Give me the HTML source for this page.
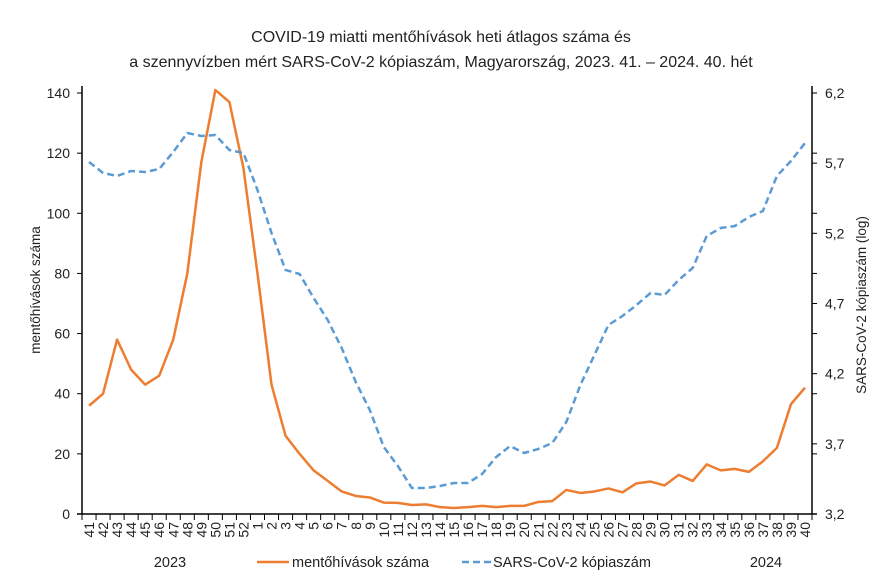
<!DOCTYPE html>
<html><head><meta charset="utf-8"><style>body{margin:0;background:#fff}svg{display:block;font-family:"Liberation Sans",Calibri,sans-serif}</style></head><body>
<svg width="882" height="582" xmlns="http://www.w3.org/2000/svg">
<text x="441" y="42" font-size="16" text-anchor="middle" fill="#222">COVID-19 miatti mentőhívások heti átlagos száma és</text>
<text x="441" y="67" font-size="16" text-anchor="middle" fill="#222">a szennyvízben mért SARS-CoV-2 kópiaszám, Magyarország, 2023. 41. – 2024. 40. hét</text>
<g id="ax" stroke="#000" stroke-width="1.5" fill="none"><line x1="82" y1="86" x2="82" y2="514"/><line x1="812" y1="86" x2="812" y2="514"/><line x1="77" y1="514" x2="817" y2="514"/></g>
<g id="ticks" stroke="#000" stroke-width="1"></g>
<g id="lab" font-size="14" fill="#222"></g>
<text transform="translate(40,290) rotate(-90)" font-size="13.5" text-anchor="middle" fill="#222">mentőhívások száma</text>
<text transform="translate(866,305) rotate(-90)" font-size="13.5" text-anchor="middle" fill="#222">SARS-CoV-2 kópiaszám (log)</text>
<polyline id="o" fill="none" stroke="#ED7D31" stroke-width="2.5" stroke-linejoin="round"/>
<polyline id="b" fill="none" stroke="#5B9BD5" stroke-width="2.5" stroke-dasharray="7,4"/>
<text x="170" y="567" font-size="14.5" text-anchor="middle" fill="#222">2023</text>
<text x="766" y="567" font-size="14.5" text-anchor="middle" fill="#222">2024</text>
<line x1="257" y1="562" x2="289" y2="562" stroke="#ED7D31" stroke-width="2.5"/>
<text x="292" y="567" font-size="14.5" fill="#222">mentőhívások száma</text>
<line x1="462" y1="562" x2="492" y2="562" stroke="#5B9BD5" stroke-width="2.5" stroke-dasharray="7,4"/>
<text x="493" y="567" font-size="14.5" fill="#222">SARS-CoV-2 kópiaszám</text>
<script>
var ns="http://www.w3.org/2000/svg",w=730/52;
function el(p,t,a,tx){var e=document.createElementNS(ns,t);for(var k in a)e.setAttribute(k,a[k]);if(tx)e.textContent=tx;document.getElementById(p).appendChild(e);}
for(var i=0;i<=7;i++){var y=514-i*60.14;el("ticks","line",{x1:77,y1:y,x2:82,y2:y});el("ticks","line",{x1:812,y1:y,x2:817,y2:y});
el("lab","text",{x:70,y:y+5,"text-anchor":"end"},String(i*20));}
for(var i=0;i<=6;i++){var y=514-i*70.17;el("ticks","line",{x1:812,y1:y,x2:817,y2:y});el("lab","text",{x:825,y:y+5},(3.2+i*0.5).toFixed(1).replace(".",","));}
var wk=[];for(var i=41;i<=52;i++)wk.push(i);for(var i=1;i<=40;i++)wk.push(i);
for(var i=0;i<=52;i++)el("ticks","line",{x1:82+i*w,y1:514,x2:82+i*w,y2:520});
wk.forEach(function(v,i){var x=82+(i+0.5)*w;el("lab","text",{transform:"translate("+(x+5)+",522) rotate(-90)","text-anchor":"end","font-size":"14"},String(v));});
var o=[36,40,58,48,43,46,58,80,117,141,137,115,80,43,26,20,14.5,11,7.5,6,5.5,3.8,3.7,3,3.2,2.3,2,2.3,2.7,2.3,2.7,2.7,4,4.3,8,7,7.5,8.5,7.2,10.2,10.8,9.5,13,11,16.5,14.5,15,14,17.5,22,36.5,42];
var b=[162,173,176,171,172,169,152,133,136,135,150,153,190,233,270,274,298,320,348,382,410,447,466,488,488,486,483,483,474,457,446,453,449,443,422,385,355,325,316,305,293,295,280,268,236,228,226,217,211,176,161,143];
document.getElementById("o").setAttribute("points",o.map(function(v,i){return (82+(i+0.5)*w)+","+(514-v*3.007)}).join(" "));
document.getElementById("b").setAttribute("points",b.map(function(v,i){return (82+(i+0.5)*w)+","+v}).join(" "));
</script>
</svg>
</body></html>
